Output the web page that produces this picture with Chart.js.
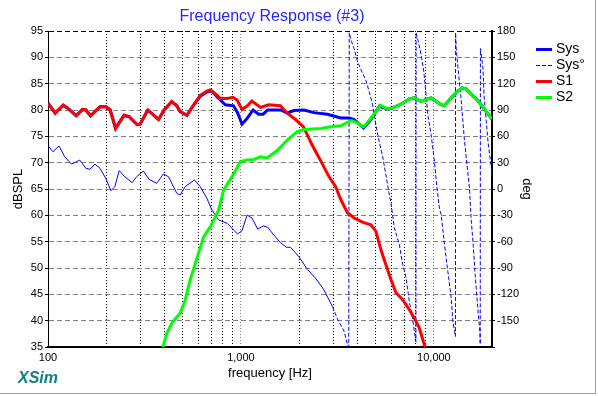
<!DOCTYPE html>
<html>
<head>
<meta charset="utf-8">
<title>Frequency Response (#3)</title>
<script src="https://cdn.jsdelivr.net/npm/chart.js@4.4.1/dist/chart.umd.min.js"></script>
<style>
  html, body { margin: 0; padding: 0; background: #fff; }
  #wrap { width: 598px; height: 396px; }
</style>
</head>
<body>
<div id="wrap"><canvas id="chart" width="598" height="396"></canvas></div>
<script>
// values (Hz / dB / deg)
const s1Freq = [100,109,120,127,140,151,157,166,186,200,210,224,248,264,290,300,329,374,400,438,465,484,525,567,615,666,693,751,781,847,910,955,1012,1080,1139,1264,1392,1600,1738,1917,2006,2110,2342,2593,2854,3100,3290,3565,3858,4266,4713,5002,5310,5637,5986,6357,6890,7457,8075,8404,8925,9200];
const s1Db = [81.3,79.4,80.9,80.3,78.9,80.1,80.0,78.9,80.6,80.6,80.0,76.5,79.0,78.7,77.2,77.3,80.0,78.2,80.0,81.6,80.8,79.7,79.0,80.9,82.8,83.6,83.8,82.8,82.2,82.2,82.4,81.9,80.1,80.8,81.7,80.5,81.0,80.8,79.4,78.2,77.5,76.8,73.3,70.3,67.4,65.4,63.0,60.5,59.5,58.7,58.2,57.0,53.5,50.6,47.8,45.3,44.0,42.1,39.9,38.6,35.4,34.2];

const s2Freq = [390,396,413,438,465,484,514,545,591,640,693,736,766,813,898,993,1076,1165,1262,1367,1541,1738,1958,2120,2590,2918,3290,3710,3938,4318,4810,5269,5755,6112,6752,7457,7920,8578,9108,9670,10900,11300,12300,13300,14000,14700,15600,16900,18300,20000];
const s2Db = [34.0,35.3,37.6,39.5,40.7,41.4,43.9,47.7,51.8,55.9,57.8,59.7,61.0,64.8,67.3,70.2,70.5,70.6,71.1,70.9,72.3,74.3,75.9,76.3,76.5,76.8,77.0,78.0,77.7,76.8,78.8,80.9,80.2,80.4,81.1,82.1,82.3,81.6,82.0,82.3,81.0,80.8,82.3,83.6,84.2,84.0,83.0,81.8,80.1,78.3];

const sysFreq = [100,109,120,127,140,151,157,166,186,200,210,224,248,264,290,300,329,374,400,438,465,484,525,567,615,666,707,751,781,830,916,960,1013,1076,1156,1236,1303,1377,1604,1738,1880,2120,2390,2805,3290,3635,3858,4318,4713,5206,5755,6112,6752,7457,7920,8578,9108,9670,10900,11300,12300,13300,14000,14700,15600,16900,18300,20000];
const sysDb = [81.3,79.4,80.9,80.3,78.9,80.1,80.0,78.9,80.6,80.6,80.0,76.5,79.0,78.7,77.2,77.3,80.0,78.2,80.0,81.6,80.8,79.7,79.0,80.9,82.6,83.4,83.6,82.5,81.9,81.0,80.8,79.5,77.3,78.4,80.0,79.2,79.2,80.0,80.0,79.4,79.9,80.0,79.5,79.2,78.5,78.5,78.2,76.6,78.2,80.7,80.2,80.4,81.1,82.1,82.3,81.6,82.0,82.3,81.0,80.8,82.3,83.6,84.2,84.0,83.0,81.8,80.1,78.3];

const phaseFreq = [100,106,114,122,132,137.5,146,157,165,175,186,199,212,222,234,250,273,288,312,334,366,396,421,465,484,514,574,615,666,707,766,847,916,961,1013,1076,1142,1222,1303,1377,1479,1603,1723,1807,1996,2208,2438,2694,2979,3162,3290,3422,3565,3620,3640,3740,3858,4018,4266,4438,4618,4810,5004,5206,5423,5641,5812,5989,6230,6615,6890,7169,7457,7767,7984,8070,8085,8306,8578,8862,9108,9297,9670,10060,10350,10680,10900,11340,11810,12290,12540,12785,12930,12950,13050,13300,13800,14400,15000,15300,15600,16000,16300,16900,17300,17380,17420,17960,18180,18690,19070,19440,19850,20000];
const phaseDeg = [49.4,42.5,49,36.8,28.5,30,33,23.6,22.5,28.5,23.6,12.2,-1.9,2.7,20.9,14,7.2,14,20.5,11,6.5,17.1,14,-4.9,-6.8,2.7,10.3,2.7,-10.6,-23.9,-35.3,-39,-46.7,-51.2,-47.5,-29.6,-33.3,-45.9,-42.1,-43.6,-52.4,-61.1,-66.4,-66.4,-77.1,-91.4,-101.7,-115,-134,-148,-155,-162,-177,-180,178,168,160,145,132,124,111,96,73,54,37,16,-1,-16,-44,-63,-86,-101,-128,-149,-168,-174,178,168,153,134,107,85,62,31.6,3,-22,-29,-63,-94,-124,-151,-162,-168,178,160,140,105,55,18,0,-35,-65,-93,-137,-162,-177,160,138,107,77,54,39,24,12];

const dbTicks = [35,40,45,50,55,60,65,70,75,80,85,90,95];
const degTicks = [-180,-150,-120,-90,-60,-30,0,30,60,90,120,150,180];
const freqGrid = [100,200,300,400,500,600,700,800,900,1000,2000,3000,4000,5000,6000,7000,8000,9000,10000];
const freqLabels = [100,1000,10000];

const FONT = "'Liberation Sans', Arial, sans-serif";
Chart.defaults.font.family = FONT;
Chart.defaults.color = '#000';

const pts = (xs, ys) => xs.map((x, i) => ({ x: x, y: ys[i] }));

// legend, XSim tag and window edge
const xsimExtras = {
  id: 'xsimExtras',
  afterDraw(chart) {
    const ctx = chart.ctx;
    const rows = [49, 65, 81, 97];
    ctx.save();
    chart.data.datasets.forEach((ds, i) => {
      const y = rows[i];
      ctx.beginPath();
      ctx.strokeStyle = ds.borderColor;
      ctx.lineWidth = ds.borderWidth;
      ctx.setLineDash(ds.borderDash || []);
      ctx.moveTo(536, y + 0.5);
      ctx.lineTo(552, y + 0.5);
      ctx.stroke();
      ctx.setLineDash([]);
      ctx.fillStyle = '#000';
      ctx.font = '14px ' + FONT;
      ctx.textBaseline = 'middle';
      ctx.textAlign = 'left';
      ctx.fillText(ds.label, 556, y + 0.5);
    });

    ctx.fillStyle = '#108080';
    ctx.font = 'italic bold 16px ' + FONT;
    ctx.textBaseline = 'alphabetic';
    ctx.fillText('XSim', 18, 383);

    ctx.strokeStyle = '#a0a0a0';
    ctx.lineWidth = 1;
    ctx.beginPath();
    ctx.moveTo(595.5, 0);
    ctx.lineTo(595.5, 394);
    ctx.moveTo(0, 393.5);
    ctx.lineTo(596, 393.5);
    ctx.stroke();
    ctx.restore();
  }
};

const lineBase = { pointRadius: 0, pointHoverRadius: 0, tension: 0, fill: false, clip: 0 };

new Chart(document.getElementById('chart'), {
  type: 'line',
  data: {
    datasets: [
      Object.assign({ label: 'Sys', data: pts(sysFreq, sysDb), yAxisID: 'y',
        borderColor: '#0000ff', borderWidth: 3, order: 4 }, lineBase),
      Object.assign({ label: 'Sys°', data: pts(phaseFreq, phaseDeg), yAxisID: 'yPhase',
        borderColor: '#0000ff', borderWidth: 1, borderDash: [4, 2], order: 3,
        segment: { borderDash: c => phaseFreq[c.p1DataIndex] <= 3000 ? [] : undefined } }, lineBase),
      Object.assign({ label: 'S1', data: pts(s1Freq, s1Db), yAxisID: 'y',
        borderColor: '#ff0000', borderWidth: 3, order: 2 }, lineBase),
      Object.assign({ label: 'S2', data: pts(s2Freq, s2Db), yAxisID: 'y',
        borderColor: '#00ff00', borderWidth: 3, order: 1 }, lineBase)
    ]
  },
  options: {
    responsive: false,
    animation: false,
    events: [],
    layout: { padding: { left: 10, right: 64, top: 0, bottom: 0 } },
    plugins: {
      legend: { display: false },
      tooltip: { enabled: false },
      title: {
        display: true,
        text: 'Frequency Response (#3)',
        color: '#2626ff',
        font: { size: 16, weight: 'normal' },
        padding: { top: 7, bottom: 4.8 }
      }
    },
    scales: {
      x: {
        type: 'logarithmic',
        min: 100,
        max: 20000,
        afterBuildTicks: s => { s.ticks = freqGrid.map(v => ({ value: v })); },
        afterFit: s => { s.height = 49; },
        ticks: {
          autoSkip: false, maxRotation: 0, padding: 4,
          font: { size: 11 },
          callback: v => freqLabels.includes(v) ? v.toLocaleString('en-US') : ''
        },
        grid: {
          color: c => (c.tick && freqLabels.includes(c.tick.value)) ? '#808080' : '#000',
          lineWidth: 1,
          drawTicks: false
        },
        border: { color: '#000', width: 2, dash: [1, 2] },
        title: { display: true, text: 'frequency [Hz]', font: { size: 13 }, padding: { top: 0, bottom: 15 } }
      },
      y: {
        type: 'linear',
        position: 'left',
        min: 35,
        max: 95,
        afterBuildTicks: s => { s.ticks = dbTicks.map(v => ({ value: v })); },
        afterFit: s => { s.width = 38; },
        ticks: { padding: 2, font: { size: 11 } },
        grid: {
          color: c => (c.tick && c.tick.value === 95) ? '#000' : '#808080',
          lineWidth: 1,
          drawTicks: true, tickLength: 3, tickColor: '#000', tickBorderDash: []
        },
        border: { color: '#000', width: 1, dash: [5, 3] },
        title: { display: true, text: 'dBSPL', font: { size: 13 }, padding: { top: 1, bottom: 0 } }
      },
      yPhase: {
        type: 'linear',
        position: 'right',
        min: -180,
        max: 180,
        afterBuildTicks: s => { s.ticks = degTicks.map(v => ({ value: v })); },
        afterFit: s => { s.width = 42; },
        ticks: { padding: 2, font: { size: 11 }, callback: v => v === -180 ? '' : String(v) },
        grid: { drawOnChartArea: false, drawTicks: true, tickLength: 3, tickColor: '#000' },
        border: { color: '#000', width: 2 },
        title: { display: true, text: 'deg', font: { size: 13 }, padding: { top: 0, bottom: 0 } }
      }
    }
  },
  plugins: [xsimExtras]
});
</script>
</body>
</html>
